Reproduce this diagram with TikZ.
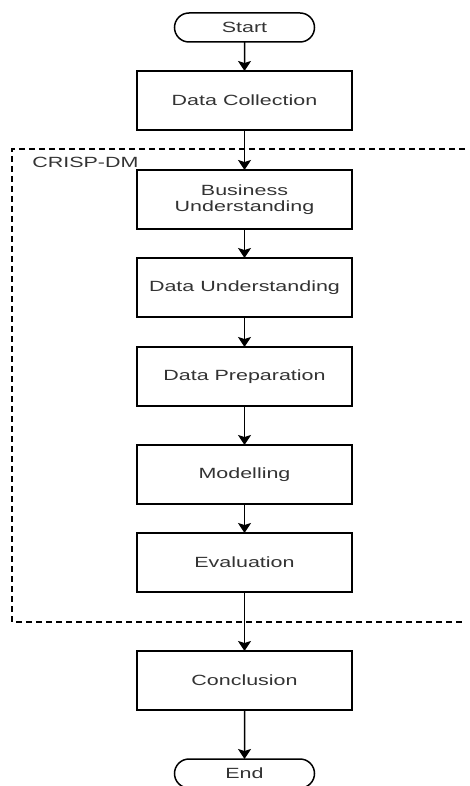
\documentclass[tikz,border=0pt]{standalone}
\usepackage{fontspec}
\setmainfont{Liberation Sans}[FakeStretch=1.45]
\usetikzlibrary{positioning, shapes.misc, arrows.meta}

\begin{document}
\begin{tikzpicture}[x=1pt, y=1pt,
	every node/.style={text=black!80, font=\fontsize{7.4}{8}\selectfont},
	stepbox/.style={draw, line width=0.75pt, outer sep=0pt, minimum width=107.5pt, minimum height=29.5pt, inner sep=2pt, align=center},
	terminal/.style={draw, rounded rectangle, line width=0.75pt, outer sep=0pt, minimum width=72pt, minimum height=14.5pt, inner sep=1pt},
	flow/.style={-{Stealth[length=5pt, width=6.5pt, inset=1pt]}, line width=0.75pt},
	phase/.style={dash pattern=on 3pt off 2pt, line width=0.75pt}]
		\useasboundingbox (0,0) rectangle (235,-393);

		% Flow steps
		\node[terminal] (start) at (122.25,-13.75) {Start};
		\node[stepbox, below=14.5pt of start] (collect) {Data Collection};
		\node[stepbox, below=20pt of collect] (business) {Business\\Understanding};
		\node[stepbox, below=14.5pt of business] (understand) {Data Understanding};
		\node[stepbox, below=15pt of understand] (prepare) {Data Preparation};
		\node[stepbox, below=19.5pt of prepare] (model) {Modelling};
		\node[stepbox, below=14.5pt of model] (evaluate) {Evaluation};
		\node[stepbox, below=29.5pt of evaluate] (conclude) {Conclusion};
		\node[terminal, below=24.5pt of conclude] (finish) {End};

		% CRISP-DM frame (open on the right)
		\draw[phase] (232.5,-74.5) -- (6,-74.5) -- (6,-311) -- (232.5,-311);
		\node[anchor=west, inner sep=0pt] (crisp) at (16,-81) {CRISP-DM};

		% Connectors
		\draw[flow] (start) -- (collect);
		\draw[flow] (collect) -- (business);
		\draw[flow] (business) -- (understand);
		\draw[flow] (understand) -- (prepare);
		\draw[flow] (prepare) -- (model);
		\draw[flow] (model) -- (evaluate);
		\draw[flow] (evaluate) -- (conclude);
		\draw[flow] (conclude) -- (finish);
	\end{tikzpicture}
\end{document}
